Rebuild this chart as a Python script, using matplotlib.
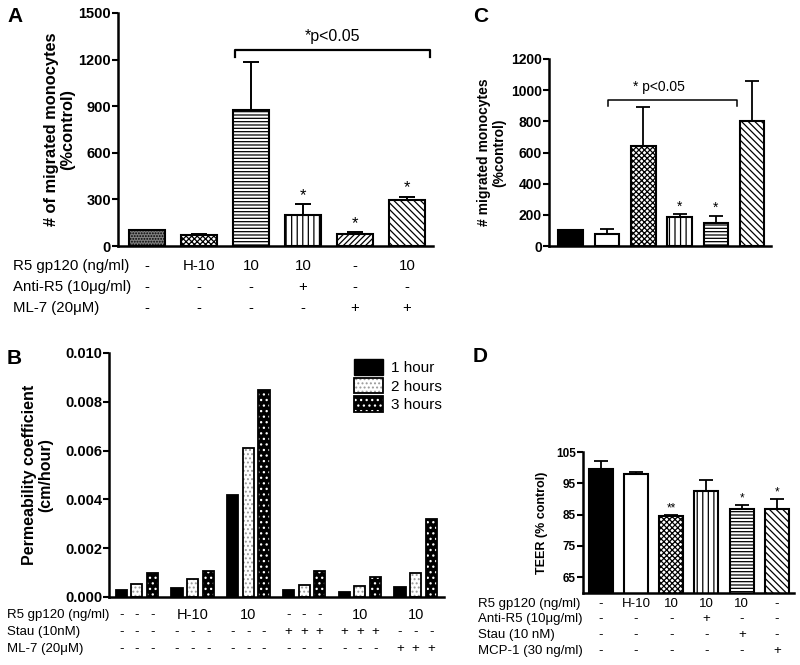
import numpy as np
import matplotlib.pyplot as plt
from matplotlib.transforms import blended_transform_factory
from matplotlib.patches import Patch
from matplotlib.legend_handler import HandlerTuple

plt.rcParams['font.family'] = ['Liberation Sans', 'DejaVu Sans']
plt.rcParams['hatch.linewidth'] = 0.9

# ---- panel A: monocyte migration
a_values = [100, 70, 878, 200, 80, 297]
a_err = [0, 10, 307, 68, 8, 20]
a_stars = ['', '', '', '*', '*', '*']
a_gp120 = ['-', 'H-10', '10', '10', '-', '10']
a_anti = ['-', '-', '-', '+', '-', '-']
a_ml7 = ['-', '-', '-', '-', '+', '+']

# ---- panel B: permeability coefficient
b_hours = ['1 hour', '2 hours', '3 hours']
b_one = [0.0003, 0.00035, 0.0042, 0.0003, 0.0002, 0.0004]
b_two = [0.00053, 0.00075, 0.0061, 0.00048, 0.00046, 0.0010]
b_three = [0.00098, 0.00105, 0.0085, 0.00105, 0.0008, 0.0032]
b_gp120 = ['-', 'H-10', '10', '-', '10', '10']
b_stau = ['-', '-', '-', '+', '+', '-']
b_ml7 = ['-', '-', '-', '-', '-', '+']

# ---- panel C: monocyte migration
c_values = [100, 80, 643, 187, 148, 800]
c_err = [0, 27, 246, 17, 47, 256]
c_stars = ['', '', '', '*', '*', '']

# ---- panel D: TEER
d_values = [99.5, 98.0, 84.6, 92.6, 86.9, 86.8]
d_err = [2.7, 0.6, 0.2, 3.6, 1.3, 3.3]
d_stars = ['', '', '**', '', '*', '*']
d_gp120 = ['-', 'H-10', '10', '10', '10', '-']
d_anti = ['-', '-', '-', '+', '-', '-']
d_stau = ['-', '-', '-', '-', '+', '-']
d_mcp = ['-', '-', '-', '-', '-', '+']


def hatched_bar(ax, x, h, w, face, hatch, hcolor='black', lw=1.5):
    ax.bar(x, h, w, color=face, edgecolor=hcolor, hatch=hatch, linewidth=0)
    ax.bar(x, h, w, fill=False, edgecolor='black', linewidth=lw)


def style(ax, size):
    ax.spines['top'].set_visible(False)
    ax.spines['right'].set_visible(False)
    ax.spines['left'].set_linewidth(1.8)
    ax.spines['bottom'].set_linewidth(1.8)
    ax.tick_params(axis='x', length=0, labelbottom=False)
    ax.tick_params(axis='y', width=1.5, length=4, labelsize=size, pad=1)
    for lab in ax.get_yticklabels():
        lab.set_fontweight('bold')


def ylab(ax, text, size, xpos):
    ax.set_ylabel(text, fontsize=size, fontweight='bold', linespacing=1.1)
    ax.yaxis.set_label_coords(xpos, 0.5)
    ax.yaxis.label.set_va('center')


def table(fig, ax, rows, labels, ys, label_x, xs, size):
    tr = blended_transform_factory(ax.transData, fig.transFigure)
    for lab, row, y in zip(labels, rows, ys):
        fig.text(label_x / 800, 1 - y / 665, lab, fontsize=size, va='center', ha='left')
        for x, v in zip(xs, row):
            fig.text(x, 1 - y / 665, v, fontsize=size, va='center', ha='center', transform=tr)


fig = plt.figure(figsize=(8, 6.65), dpi=100)
x6 = np.arange(6)
w = 0.68
checks = 'xxxxxx'
diag = '\\\\\\\\\\'

# ---------- A ----------
axA = fig.add_axes([118 / 800, 1 - 246 / 665, 315 / 800, 233 / 665])
a_fill = [('#808080', '......', 'black'), ('white', checks, 'black'), ('white', '-----', 'black'),
          ('white', '|||', 'black'), ('white', '//////', 'black'), ('white', diag, 'black')]
for i, v in enumerate(a_values):
    face, hatch, hc = a_fill[i]
    hatched_bar(axA, x6[i], v, w, face, hatch, hc)
axA.errorbar(x6, a_values, yerr=[np.zeros(6), a_err], fmt='none', ecolor='black',
             elinewidth=1.4, capsize=6, capthick=1.4)
for i, s in enumerate(a_stars):
    if s:
        axA.text(x6[i], a_values[i] + a_err[i] + 10, s, ha='center', va='bottom', fontsize=12)
axA.plot([1.69, 1.69, 5.44, 5.44], [1215, 1260, 1260, 1215], color='black', lw=1.6, clip_on=False)
axA.text(3.57, 1300, '*p<0.05', ha='center', va='bottom', fontsize=11.5)
axA.set_ylim(0, 1500)
axA.set_xlim(-0.56, 5.5)
axA.set_yticks([0, 300, 600, 900, 1200, 1500])
style(axA, 10.5)
ylab(axA, '# of migrated monocytes\n(%control)', 11.8, -0.185)
table(fig, axA, [a_gp120, a_anti, a_ml7],
      ['R5 gp120 (ng/ml)', 'Anti-R5 (10\u03bcg/ml)', 'ML-7 (20\u03bcM)'],
      [266, 287, 308], 13, x6, 10.8)

# ---------- C ----------
axC = fig.add_axes([549 / 800, 1 - 246 / 665, 222 / 800, 187 / 665])
c_fill = [('black', '', 'black'), ('white', '', 'black'), ('white', checks, 'black'),
          ('white', '|||', 'black'), ('white', '-----', 'black'), ('white', diag, 'black')]
for i, v in enumerate(c_values):
    face, hatch, hc = c_fill[i]
    hatched_bar(axC, x6[i], v, w, face, hatch, hc)
axC.errorbar(x6, c_values, yerr=[np.zeros(6), c_err], fmt='none', ecolor='black',
             elinewidth=1.3, capsize=5, capthick=1.3)
for i, s in enumerate(c_stars):
    if s:
        axC.text(x6[i], c_values[i] + c_err[i] + 5, s, ha='center', va='bottom', fontsize=10)
axC.plot([1.04, 1.04, 4.58, 4.58], [900, 939, 939, 900], color='black', lw=1.1)
axC.text(2.42, 975, '* p<0.05', ha='center', va='bottom', fontsize=10)
axC.set_ylim(0, 1200)
axC.set_xlim(-0.6, 5.52)
axC.set_yticks([0, 200, 400, 600, 800, 1000, 1200])
style(axC, 10)
ylab(axC, '# migrated monocytes\n(%control)', 10, -0.26)

# ---------- B ----------
axB = fig.add_axes([109 / 800, 1 - 597 / 665, 335 / 800, 244 / 665])
off = 0.28
bw = 0.2
for i in range(6):
    hatched_bar(axB, x6[i] - off, b_one[i], bw, 'black', '', 'black', 1.3)
    hatched_bar(axB, x6[i], b_two[i], bw, 'white', '....', '#9a9a9a', 1.3)
    hatched_bar(axB, x6[i] + off, b_three[i], bw, 'black', '...', 'white', 1.3)
axB.set_ylim(0, 0.010)
axB.set_xlim(-0.5, 5.51)
axB.set_yticks([0, 0.002, 0.004, 0.006, 0.008, 0.010])
axB.set_yticklabels(['0.000', '0.002', '0.004', '0.006', '0.008', '0.010'])
style(axB, 10.5)
ylab(axB, 'Permeability coefficient\n(cm/hour)', 11.5, -0.212)
h1 = (Patch(facecolor='black', edgecolor='black'),)
h2 = (Patch(facecolor='white', edgecolor='#9a9a9a', hatch='....', linewidth=0),
      Patch(fill=False, edgecolor='black', linewidth=1.3))
h3 = (Patch(facecolor='black', edgecolor='white', hatch='...', linewidth=0),
      Patch(fill=False, edgecolor='black', linewidth=1.3))
axB.legend([h1, h2, h3], b_hours, handler_map={tuple: HandlerTuple(ndivide=1, pad=0)},
           loc='upper left', bbox_to_anchor=(0.69, 1.03), frameon=False, fontsize=11,
           handlelength=1.9, handleheight=1.2, labelspacing=0.15, handletextpad=0.5)
trB = blended_transform_factory(axB.transData, fig.transFigure)
rowsB = [b_gp120, b_stau, b_ml7]
labelsB = ['R5 gp120 (ng/ml)', 'Stau (10nM)', 'ML-7 (20\u03bcM)']
ysB = [615, 632, 649]
for r, (row, lab, y) in enumerate(zip(rowsB, labelsB, ysB)):
    fig.text(7 / 800, 1 - y / 665, lab, fontsize=9.5, va='center', ha='left')
    for i, v in enumerate(row):
        if v in ('-', '+'):
            for dx in (-off, 0, off):
                fig.text(x6[i] + dx, 1 - y / 665, v, fontsize=9.5, va='center', ha='center',
                         transform=trB)
        else:
            fig.text(x6[i], 1 - y / 665, v, fontsize=10.5, va='center', ha='center',
                     transform=trB)

# ---------- D ----------
axD = fig.add_axes([583 / 800, 1 - 593 / 665, 211 / 800, 141 / 665])
d_fill = [('black', '', 'black'), ('white', '', 'black'), ('white', checks, 'black'),
          ('white', '|||', 'black'), ('white', '-----', 'black'), ('white', diag, 'black')]
for i, v in enumerate(d_values):
    face, hatch, hc = d_fill[i]
    hatched_bar(axD, x6[i], v, w, face, hatch, hc)
axD.errorbar(x6, d_values, yerr=[np.zeros(6), d_err], fmt='none', ecolor='black',
             elinewidth=1.3, capsize=5, capthick=1.3)
for i, s in enumerate(d_stars):
    if s:
        axD.text(x6[i], d_values[i] + d_err[i] + 0.2, s, ha='center', va='bottom', fontsize=8.5)
axD.set_ylim(60, 105)
axD.set_xlim(-0.5, 5.48)
axD.set_yticks([65, 75, 85, 95, 105])
style(axD, 8.5)
ylab(axD, 'TEER (% control)', 9, -0.194)
table(fig, axD, [d_gp120, d_anti, d_stau, d_mcp],
      ['R5 gp120 (ng/ml)', 'Anti-R5 (10\u03bcg/ml)', 'Stau (10 nM)', 'MCP-1 (30 ng/ml)'],
      [604, 619, 635, 651], 478, x6, 9.5)

# panel letters
for lab, x, y in [('A', 7, 17), ('C', 473, 17), ('B', 7, 358), ('D', 473, 356)]:
    fig.text(x / 800, 1 - y / 665, lab, fontsize=15, fontweight='bold', va='center', ha='left')

fig.savefig('out.png', dpi=100)
